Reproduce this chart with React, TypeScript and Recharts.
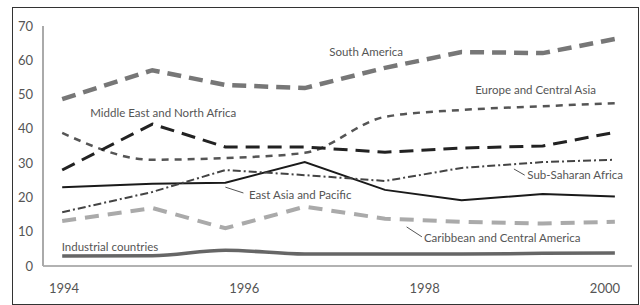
import React from 'react';
import { LineChart, Line, XAxis, YAxis, ReferenceDot, ReferenceLine } from 'recharts';

const periods = [1993.98, 1994.98, 1995.79, 1996.67, 1997.56, 1998.41, 1999.31, 2000.11];
const southAmerica = [48.7, 57.1, 52.8, 51.9, 57.8, 62.4, 62.1, 66.2];
const europeCentralAsia = [38.8, 31.0, 31.5, 33.0, 43.5, 45.5, 46.6, 47.5];
const middleEastNorthAfrica = [28.0, 41.4, 34.7, 34.7, 33.2, 34.4, 35.0, 39.0];
const subSaharanAfrica = [15.7, 21.6, 28.0, 26.5, 24.8, 28.6, 30.3, 31.0];
const eastAsiaPacific = [23.0, 24.0, 24.3, 30.3, 22.2, 19.2, 21.0, 20.3];
const caribbeanCentralAmerica = [13.1, 16.9, 11.0, 17.3, 13.8, 12.9, 12.4, 12.9];
const industrialCountries = [2.9, 3.0, 4.6, 3.5, 3.5, 3.5, 3.7, 3.8];

const xTicks = [1994, 1996, 1998, 2000];
const yTicks = [0, 10, 20, 30, 40, 50, 60, 70];

const labelTexts = [
  'South America',
  'Europe and Central Asia',
  'Middle East and North Africa',
  'East Asia and Pacific',
  'Sub-Saharan Africa',
  'Caribbean and Central America',
  'Industrial countries',
];
const labelX = [1997.35, 1999.23, 1995.1, 1996.62, 1999.67, 1998.86, 1994.51];
const labelY = [62.4, 51.3, 44.6, 20.7, 26.5, 8.2, 5.5];

const leaders = [
  [[1995.79, 23.0], [1995.99, 21.3]],
  [[1998.99, 28.3], [1999.11, 26.5]],
  [[1997.8, 11.4], [1997.97, 8.5]],
];

const data = periods.map((p, i) => ({
  p,
  sa: southAmerica[i],
  eca: europeCentralAsia[i],
  mena: middleEastNorthAfrica[i],
  ssa: subSaharanAfrica[i],
  eap: eastAsiaPacific[i],
  cca: caribbeanCentralAmerica[i],
  ind: industrialCountries[i],
}));

const FONT = 'Lato, "Noto Sans", sans-serif';

export default function App() {
  return (
    <div style={{ position: 'absolute', left: 0, top: 0, width: 640, height: 305, background: '#fff' }}>
      <div
        style={{
          position: 'absolute',
          left: 12,
          top: 7,
          width: 627,
          height: 298,
          border: '1.5px solid #333',
          boxSizing: 'border-box',
        }}
      />
      <div style={{ position: 'absolute', left: 0, top: 0 }}>
        <LineChart
          width={640}
          height={305}
          data={data}
          margin={{ top: 26, right: 8, bottom: 0, left: 0 }}
          style={{ fontFamily: FONT }}
        >
          <XAxis
            dataKey="p"
            type="number"
            domain={[1993.767, 2000.3]}
            ticks={xTicks}
            height={39}
            axisLine={{ stroke: '#999', strokeWidth: 1.5 }}
            tickLine={false}
            tickMargin={12}
            tick={{ fill: '#555', fontSize: 13, fontFamily: FONT }}
            allowDataOverflow
          />
          <YAxis
            type="number"
            domain={[0, 70]}
            ticks={yTicks}
            width={43}
            axisLine={{ stroke: '#aaa', strokeWidth: 2 }}
            tickLine={false}
            tickMargin={4}
            tick={{ fill: '#555', fontSize: 13, fontFamily: FONT }}
          />
          <Line dataKey="ind" type="monotone" stroke="#666" strokeWidth={3.5} dot={false} isAnimationActive={false} />
          <Line dataKey="cca" type="linear" stroke="#aaa" strokeWidth={4} strokeDasharray="14 9" dot={false} isAnimationActive={false} />
          <Line dataKey="eap" type="linear" stroke="#1a1a1a" strokeWidth={2} dot={false} isAnimationActive={false} />
          <Line dataKey="ssa" type="linear" stroke="#444" strokeWidth={2} strokeDasharray="8 3 2 3" dot={false} isAnimationActive={false} />
          <Line dataKey="eca" type="monotone" stroke="#555" strokeWidth={2.5} strokeDasharray="7 6" dot={false} isAnimationActive={false} />
          <Line dataKey="mena" type="linear" stroke="#222" strokeWidth={3} strokeDasharray="14 8" dot={false} isAnimationActive={false} />
          <Line dataKey="sa" type="linear" stroke="#777" strokeWidth={4.5} strokeDasharray="14 8" dot={false} isAnimationActive={false} />
          {leaders.map((seg, i) => (
            <ReferenceLine
              key={'l' + i}
              segment={[{ x: seg[0][0], y: seg[0][1] }, { x: seg[1][0], y: seg[1][1] }]}
              stroke="#555"
              strokeWidth={1}
              ifOverflow="visible"
            />
          ))}
          {labelTexts.map((t, i) => (
            <ReferenceDot
              key={'t' + i}
              x={labelX[i]}
              y={labelY[i]}
              r={0}
              fill="none"
              stroke="none"
              ifOverflow="visible"
              label={{ value: t, position: 'center', fill: '#555', fontSize: 11.5, fontFamily: FONT }}
            />
          ))}
        </LineChart>
      </div>
    </div>
  );
}
